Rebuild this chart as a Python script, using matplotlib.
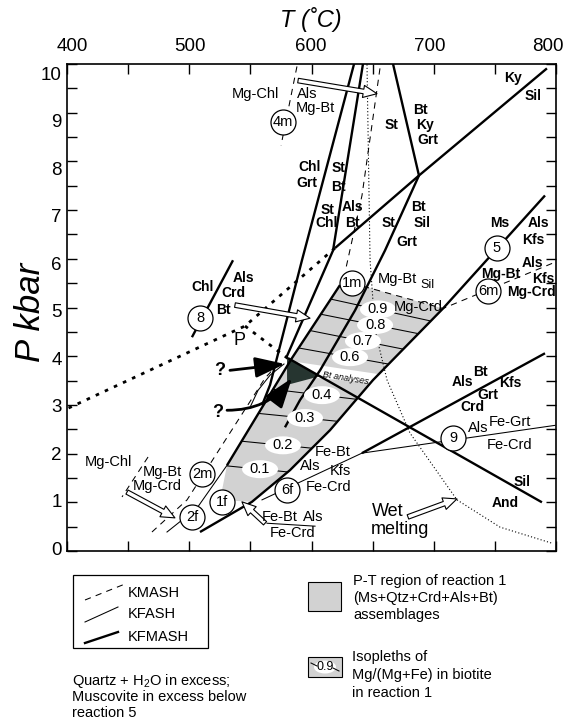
import matplotlib
matplotlib.use("Agg")
import matplotlib.pyplot as plt
import matplotlib.transforms as mtransforms
from matplotlib.patches import Polygon, Rectangle, Ellipse
import numpy as np

plt.rcParams['font.family'] = ['Liberation Sans', 'DejaVu Sans']
plt.rcParams['mathtext.fontset'] = 'custom'
plt.rcParams['mathtext.rm'] = 'Liberation Sans'
plt.rcParams['mathtext.it'] = 'Liberation Sans:italic'

# ---- reaction curves, T in deg C, P in kbar ----
ky_sil_T = [792.6, 687.9, 619.2]
ky_sil_P = [9.91, 7.71, 6.22]
and_sil_T = [788.5, 580.8]
and_sil_P = [1.00, 3.96]
bt_ky_T = [666.7, 687.9]
bt_ky_P = [10.0, 7.71]
st_sil_T = [687.9, 660.1, 635.6, 607.0, 590.6, 578.3]
st_sil_P = [7.71, 6.17, 4.94, 3.71, 3.10, 2.54]
chl_grt_T = [634.8, 592.2, 566.1, 559.5]
chl_grt_P = [10.0, 5.97, 3.41, 2.99]
st_chl_T = [642.1, 617.6, 579.2]
st_chl_P = [10.0, 6.17, 3.96]
rxn1_T = [623.3, 584.0, 530.9]
rxn1_P = [5.46, 3.96, 1.76]
rxn2f_T = [530.9, 506.3, 481.8]
rxn2f_P = [1.76, 0.88, 0.39]
rxn5_T = [791.0, 707.6, 650.3, 615.1, 582.4, 551.3, 508.8]
rxn5_P = [7.30, 4.98, 3.51, 2.48, 1.66, 1.01, 0.39]
rxn_bt_T = [791.0, 641.3]
rxn_bt_P = [4.06, 2.01]
rxn6f_T = [641.3, 559.5]
rxn6f_P = [2.01, 1.05]
rxn9_T = [641.3, 799.2]
rxn9_P = [2.01, 2.58]
rxn8_T = [535.8, 502.2]
rxn8_P = [5.97, 4.39]
# metastable extensions (thick dotted)
pyr_a_T = [619.2, 545.6, 400.8]
pyr_a_P = [6.22, 4.62, 2.93]
pyr_b_T = [545.6, 582.4]
pyr_b_P = [4.62, 3.92]
# wet melting
wet_T = [645.4, 647.9, 652.0, 661.8, 680.6, 719.0, 754.2, 796.7]
wet_P = [9.99, 5.97, 4.53, 3.51, 2.42, 1.05, 0.49, 0.16]
# KMASH (dashed)
rxn1m_T = [656.0, 641.3, 628.2]
rxn1m_P = [9.91, 7.30, 5.81]
rxn4m_T = [588.1, 575.1]
rxn4m_P = [9.95, 8.33]
rxn6m_T = [633.1, 707.6, 799.2]
rxn6m_P = [5.50, 4.98, 5.93]
rxn2m_T = [469.5, 498.2, 562.0, 574.2]
rxn2m_P = [0.39, 1.05, 3.55, 3.88]
mgchl_tick_T = [466.3, 445.0]
mgchl_tick_P = [1.93, 1.11]
febt_tick_T = [563.6, 602.9]
febt_tick_P = [0.57, 0.51]

# reaction 1 field
field_T = [623.3, 584.0, 530.9, 526.8, 537.4, 551.3, 582.4, 615.1, 650.3, 707.6, 633.1]
field_P = [5.46, 3.96, 1.76, 1.25, 1.03, 1.01, 1.66, 2.48, 3.51, 4.98, 5.50]
dark_T = [580.0, 607.0, 580.0]
dark_P = [3.98, 3.59, 3.41]
band_T = [588.1, 661.0, 659.3, 605.3]
band_P = [3.88, 3.61, 3.43, 3.55]

# isopleths Mg/(Mg+Fe): label position and slope dP/dT
iso_vals = ['0.9', '0.8', '0.7', '0.6', '0.4', '0.3', '0.2', '0.1']
iso_T = [654.4, 652.0, 642.1, 631.5, 608.6, 594.7, 576.7, 557.9]
iso_P = [4.96, 4.64, 4.31, 3.98, 3.20, 2.73, 2.17, 1.68]
iso_slope = [-0.0055, -0.005, -0.005, -0.0045, -0.003, -0.0025, -0.0025, -0.0025]

# numbered points
pt_names = ['4m', '8', '1m', '5', '6m', '9', '6f', '2m', '1f', '2f']
pt_T = [576.7, 508.8, 633.1, 751.7, 744.4, 715.7, 580.0, 510.4, 526.8, 502.2]
pt_P = [8.80, 4.78, 5.50, 6.22, 5.33, 2.32, 1.25, 1.58, 1.01, 0.70]

bold_labels = [
    ('Ky', 764.8, 9.72), ('Sil', 781.2, 9.35), ('Bt', 688.8, 9.05), ('Ky', 692.8, 8.74),
    ('Grt', 695.3, 8.43), ('St', 665.8, 8.74), ('Chl', 598.8, 7.88), ('Grt', 596.3, 7.55),
    ('St', 621.7, 7.86), ('Bt', 621.7, 7.47), ('St', 613.5, 7.00), ('Chl', 612.7, 6.73),
    ('Als', 633.9, 7.06), ('Bt', 633.1, 6.73), ('St', 662.6, 6.73), ('Bt', 687.1, 7.06),
    ('Sil', 690.4, 6.73), ('Grt', 678.1, 6.34), ('Ms', 754.2, 6.73), ('Als', 785.3, 6.73),
    ('Kfs', 781.2, 6.38), ('Als', 780.4, 5.91), ('Mg-Bt', 755.0, 5.68), ('Kfs', 789.4, 5.58),
    ('Mg-Crd', 779.6, 5.31), ('Chl', 511.2, 5.42), ('Als', 544.0, 5.60), ('Crd', 535.8, 5.29),
    ('Bt', 527.6, 4.94), ('Bt', 737.8, 3.67), ('Als', 723.1, 3.47), ('Kfs', 762.4, 3.45),
    ('Grt', 744.4, 3.20), ('Crd', 731.3, 2.95), ('Sil', 772.2, 1.42), ('And', 758.3, 0.98),
]
plain_labels = [
    ('Mg-Chl', 553.8, 9.39), ('Als', 596.3, 9.39), ('Mg-Bt', 602.9, 9.09),
    ('Mg-Bt', 670.0, 5.58), ('Mg-Crd', 687.1, 5.01), ('Fe-Grt', 762.4, 2.65),
    ('Als', 736.2, 2.52), ('Fe-Crd', 762.4, 2.17), ('Fe-Bt', 617.6, 2.03),
    ('Als', 598.8, 1.74), ('Kfs', 623.3, 1.64), ('Fe-Crd', 614.3, 1.32),
    ('Fe-Bt', 574.2, 0.70), ('Als', 601.2, 0.70), ('Fe-Crd', 584.9, 0.37),
    ('Mg-Chl', 433.5, 1.83), ('Mg-Bt', 477.7, 1.62), ('Mg-Crd', 473.6, 1.33),
]
big_labels = [('Wet', 662.6, 0.82), ('melting', 672.4, 0.45), ('P', 541.5, 4.33)]

# hollow arrows: (tail T, tail P, head T, head P)
hollow_arrows = [
    (589.0, 9.66, 653.6, 9.39),
    (537.4, 5.05, 598.8, 4.78),
    (449.1, 1.21, 488.3, 0.68),
    (562.0, 0.57, 543.1, 1.01),
    (678.9, 0.70, 719.0, 1.07),
]
lens_T = [549.7, 556.3, 566.1, 577.5]
lens_P = [2.95, 3.30, 3.61, 3.84]

# axis label positions as printed in the figure
xlab_vals = [400, 500, 600, 700, 800]
xlab_pos = [404.1, 500.6, 599.6, 696.9, 793.5]
ylab_vals = list(range(11))
ylab_pos = [(1 + i * 47.5) / 48.75 for i in ylab_vals]

fig = plt.figure(figsize=(5.64, 7.19), dpi=100)
ax0 = fig.add_axes([0, 0, 1, 1])
ax0.set_xlim(0, 564)
ax0.set_ylim(719, 0)
ax0.axis('off')

ax = fig.add_axes([67 / 564, 1 - 551 / 719, 489 / 564, 487 / 719])
ax.set_xlim(400, 800)
ax.set_ylim(0, 10)

K = 'black'
thick = 1.7
thin = 0.75
grey = '#d2d2d2'

field = Polygon(np.column_stack([field_T, field_P]), closed=True,
                fc=grey, ec='none', zorder=1)
ax.add_patch(field)
for v, t, p, s in zip(iso_vals, iso_T, iso_P, iso_slope):
    tt = np.array([t - 80, t + 80])
    ln, = ax.plot(tt, p + s * (tt - t), color=K, lw=thin, zorder=2)
    ln.set_clip_path(field)
ax.add_patch(Polygon(np.column_stack([band_T, band_P]), closed=True,
                     fc='white', ec='none', zorder=2.5))
ax.add_patch(Polygon(np.column_stack([dark_T, dark_P]), closed=True,
                     fc='#263530', ec='none', zorder=2.6))
ax.text(628, 3.55, 'Bt analyses', fontsize=6.5, style='italic', rotation=-9,
        ha='center', va='center', zorder=3)

for T, P in [(ky_sil_T, ky_sil_P), (and_sil_T, and_sil_P), (bt_ky_T, bt_ky_P),
             (st_sil_T, st_sil_P), (chl_grt_T, chl_grt_P), (st_chl_T, st_chl_P),
             (rxn1_T, rxn1_P), (rxn5_T, rxn5_P), (rxn_bt_T, rxn_bt_P), (rxn8_T, rxn8_P)]:
    ax.plot(T, P, color=K, lw=thick, zorder=3, solid_capstyle='butt')
for T, P in [(rxn2f_T, rxn2f_P), (rxn6f_T, rxn6f_P), (rxn9_T, rxn9_P),
             (febt_tick_T, febt_tick_P)]:
    ax.plot(T, P, color=K, lw=thin, zorder=3)
for T, P in [(rxn1m_T, rxn1m_P), (rxn4m_T, rxn4m_P), (rxn6m_T, rxn6m_P),
             (rxn2m_T, rxn2m_P), (mgchl_tick_T, mgchl_tick_P)]:
    ax.plot(T, P, color=K, lw=thin, ls=(0, (6, 5)), zorder=3)
for T, P in [(pyr_a_T, pyr_a_P), (pyr_b_T, pyr_b_P)]:
    ax.plot(T, P, color=K, lw=2.0, ls=(0, (1.3, 2.3)), zorder=3)
ax.plot(wet_T, wet_P, color=K, lw=0.8, ls=(0, (1, 2)), zorder=3)
ax.plot(lens_T, lens_P, color=K, lw=thin, zorder=3)

for t0, p0, t1, p1 in hollow_arrows:
    ax.annotate('', xy=(t1, p1), xytext=(t0, p0),
                arrowprops=dict(arrowstyle='simple,head_length=0.9,head_width=0.8,tail_width=0.3',
                                fc='white', ec=K, lw=0.8, shrinkA=0, shrinkB=0,
                                mutation_scale=11), zorder=4)
ax.annotate('', xy=(578.3, 3.84), xytext=(533.3, 3.71),
            arrowprops=dict(arrowstyle='-|>,head_length=1.3,head_width=0.45',
                            fc=K, ec=K, lw=2, shrinkA=0, shrinkB=0, mutation_scale=14), zorder=4)
ax.annotate('', xy=(584.0, 3.55), xytext=(530.9, 2.89),
            arrowprops=dict(arrowstyle='-|>,head_length=1.3,head_width=0.45',
                            fc=K, ec=K, lw=2, shrinkA=0, shrinkB=0, mutation_scale=14,
                            connectionstyle='arc3,rad=0.25'), zorder=4)
ax.text(525.2, 3.71, '?', fontsize=13, fontweight='bold', ha='center', va='center')
ax.text(523.5, 2.85, '?', fontsize=13, fontweight='bold', ha='center', va='center')

for name, t, p in zip(pt_names, pt_T, pt_P):
    ax.plot(t, p, 'o', ms=18, mfc='white', mec=K, mew=0.9, zorder=5)
    ax.text(t, p, name, fontsize=10.5, ha='center', va='center', zorder=6)

# isopleth labels in white ovals (oval about 36 x 18 px)
for v, t, p in zip(iso_vals, iso_T, iso_P):
    ax.add_patch(Ellipse((t, p), 36 / 1.2225, 18 / 48.75, fc='white', ec='none', zorder=5))
    ax.text(t, p, v, fontsize=10.5, ha='center', va='center', zorder=6)

for s, t, p in bold_labels:
    ax.text(t, p, s, fontsize=10, fontweight='bold', ha='center', va='center', zorder=6)
for s, t, p in plain_labels:
    ax.text(t, p, s, fontsize=10.5, ha='center', va='center', zorder=6)
for s, t, p in big_labels:
    ax.text(t, p, s, fontsize=13, ha='center', va='center', zorder=6)
ax.text(695.0, 5.47, 'Sil', fontsize=9, ha='center', va='center', zorder=6)

# ticks every 50 C / 0.5 kbar on all sides, labels placed as in the original
ax.set_xticks(np.arange(400, 801, 50))
ax.set_yticks(np.arange(0, 10.01, 0.5))
ax.tick_params(axis='both', direction='in', top=True, bottom=True, left=True, right=True,
               labelbottom=False, labelleft=False, length=7, width=1)
tx = mtransforms.blended_transform_factory(ax.transData, ax.transAxes)
for v, pos in zip(xlab_vals, xlab_pos):
    ax.text(pos, 1.035, str(v), transform=tx, fontsize=13.5, ha='center', va='center')
ty = mtransforms.blended_transform_factory(ax.transAxes, ax.transData)
for v, pos in zip(ylab_vals, ylab_pos):
    ax.text(-0.011, pos, str(v), transform=ty, fontsize=13.5, ha='right', va='center')
for sp in ax.spines.values():
    sp.set_linewidth(1.2)

fig.text(311 / 564, 1 - 19 / 719, 'T (˚C)', fontsize=17, style='italic',
         ha='center', va='center')
fig.text(30 / 564, 1 - 312 / 719, 'P kbar', fontsize=25, style='italic',
         rotation=90, ha='center', va='center')

# ---- legend ----
ax0.add_patch(Rectangle((73, 575), 135, 73, fc='none', ec=K, lw=0.9))
ax0.plot([85, 125], [600, 584], color=K, lw=thin, ls=(0, (6, 5)))
ax0.plot([85, 118], [622, 607], color=K, lw=thin)
ax0.plot([85, 118], [643, 632], color=K, lw=thick)
for s, y in [('KMASH', 593), ('KFASH', 614), ('KFMASH', 637)]:
    ax0.text(128, y, s, fontsize=10.5, va='center')
for s, y in [('Quartz + H$_2$O in excess;', 681), ('Muscovite in excess below', 697),
             ('reaction 5', 713)]:
    ax0.text(72, y, s, fontsize=10.5, va='center')
ax0.add_patch(Rectangle((308, 582), 33, 29, fc=grey, ec=K, lw=0.8))
for s, y in [('P-T region of reaction 1', 581), ('(Ms+Qtz+Crd+Als+Bt)', 598),
             ('assemblages', 615)]:
    ax0.text(353, y, s, fontsize=10.5, va='center')
ax0.add_patch(Rectangle((308, 657), 34, 20, fc=grey, ec=K, lw=0.8))
ax0.plot([311, 317], [663, 666], color=K, lw=thin)
ax0.plot([333, 339], [668, 671], color=K, lw=thin)
ax0.add_patch(Ellipse((325, 667), 22, 13, fc='white', ec='none'))
ax0.text(325, 667, '0.9', fontsize=9, ha='center', va='center')
for s, y in [('Isopleths of', 657), ('Mg/(Mg+Fe) in biotite', 675), ('in reaction 1', 693)]:
    ax0.text(352, y, s, fontsize=10.5, va='center')

fig.savefig('out.png', dpi=100)
